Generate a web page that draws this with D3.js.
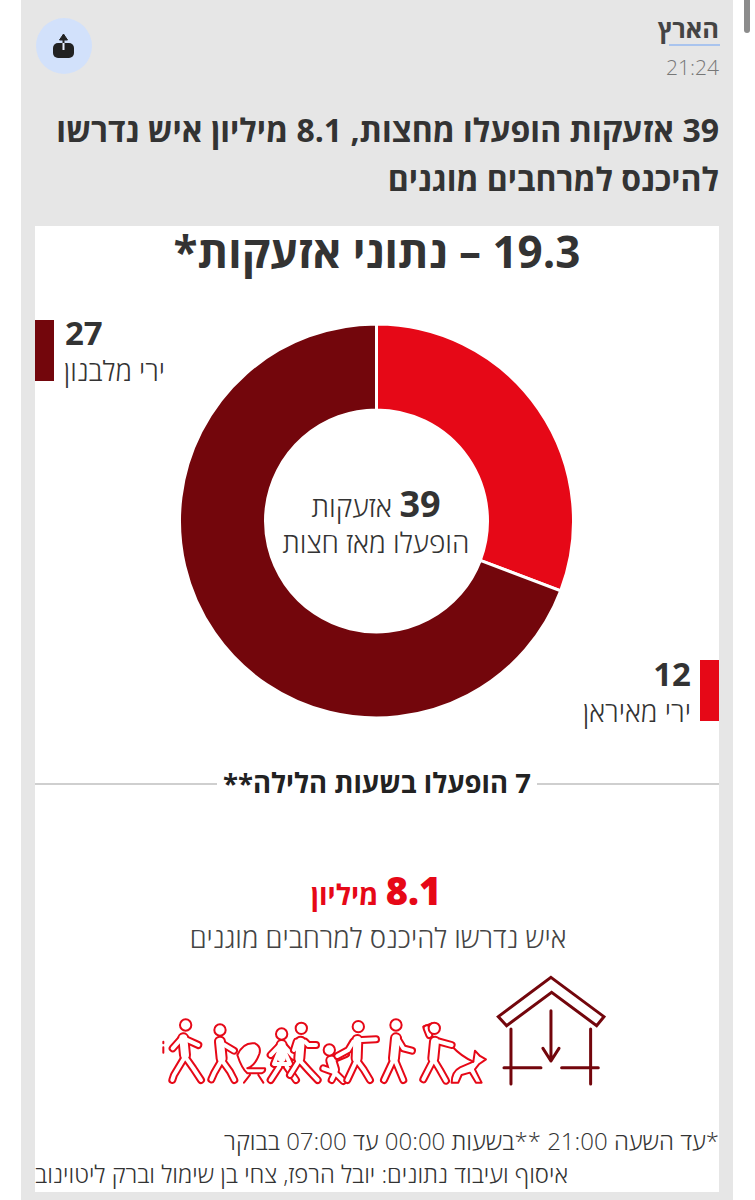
<!DOCTYPE html>
<html lang="he">
<head>
<meta charset="utf-8">
<script src="https://cdn.jsdelivr.net/npm/d3@7"></script>
<style>
  html, body { margin: 0; padding: 0; background: #fff; }
  svg { display: block; }
  text { font-family: "Open Sans", "Noto Sans", sans-serif; }
</style>
</head>
<body>
<svg id="chart" width="755" height="1200"></svg>
<script>
// values
var sliceNames = ["ירי מאיראן", "ירי מלבנון"];
var sliceValues = [12, 27];
var sliceColors = ["#e60817", "#73060c"];

var svg = d3.select("#chart");
var H = 1200;

function rect(x, y, w, h, fill) {
  return svg.append("rect").attr("x", x).attr("y", y).attr("width", w).attr("height", h).attr("fill", fill);
}

function label(x, y, str, size, weight, fill, anchor) {
  return svg.append("text")
    .attr("x", x).attr("y", y)
    .attr("direction", "rtl")
    .attr("text-anchor", anchor || "middle")
    .attr("font-size", size)
    .attr("font-weight", weight)
    .attr("fill", fill)
    .text(str);
}

// background panels and scrollbar
rect(21, 0, 712, H, "#e6e6e6");
rect(35, 226, 684, 966, "#ffffff");
rect(744, -6, 6, 39, "#8c8c8c").attr("rx", 3);

// header
label(719, 38, "הארץ", 25.5, 700, "#444", "start");
svg.append("line").attr("x1", 669).attr("x2", 720).attr("y1", 45).attr("y2", 45)
  .attr("stroke", "#a9c4ee").attr("stroke-width", 2);
svg.append("text").attr("x", 719).attr("y", 75).attr("text-anchor", "end")
  .attr("font-size", 21).attr("font-weight", 300).attr("fill", "#777").text("21:24");

// share button
svg.append("circle").attr("cx", 64).attr("cy", 46).attr("r", 28).attr("fill", "#d2e1fb");
rect(53, 43, 21, 15, "#222").attr("rx", 5);
svg.append("path").attr("d", "M59.5 40L63.5 34L67.5 40Z").attr("fill", "#222").attr("stroke", "#222");
svg.append("line").attr("x1", 63.5).attr("x2", 63.5).attr("y1", 38).attr("y2", 43)
  .attr("stroke", "#222").attr("stroke-width", 2);
svg.append("line").attr("x1", 63.5).attr("x2", 63.5).attr("y1", 43).attr("y2", 50)
  .attr("stroke", "#e8effc").attr("stroke-width", 2);

// headline
label(719, 142, "39 אזעקות הופעלו מחצות, 8.1 מיליון איש נדרשו", 32, 700, "#333", "start");
label(719, 191, "להיכנס למרחבים מוגנים", 32, 700, "#333", "start");

// card title
label(377, 268, "19.3 – נתוני אזעקות*", 44, 700, "#333");

// donut
var cx = 376.5, cy = 521;
var pie = d3.pie().sort(null).value(function (d) { return d; });
var arc = d3.arc().innerRadius(111).outerRadius(197);
svg.append("g")
  .attr("transform", "translate(" + cx + "," + cy + ")")
  .selectAll("path")
  .data(pie(sliceValues))
  .join("path")
  .attr("d", arc)
  .attr("fill", function (d, i) { return sliceColors[i]; })
  .attr("stroke", "#fff")
  .attr("stroke-width", 3);

// donut centre
var centre = label(376, 517, "", 28.5, 300, "#333");
centre.append("tspan").attr("font-size", 36).attr("font-weight", 700).text("39");
centre.append("tspan").text(" אזעקות");
label(376, 553, "הופעלו מאז חצות", 28, 300, "#333");

// slice labels
rect(35, 320, 19, 61, sliceColors[1]);
svg.append("text").attr("x", 65).attr("y", 345).attr("font-size", 33).attr("font-weight", 700)
  .attr("fill", "#333").text(sliceValues[1]);
label(165, 381, sliceNames[1], 27.5, 300, "#333", "start");

rect(700, 660, 19, 61, sliceColors[0]);
svg.append("text").attr("x", 691).attr("y", 686).attr("text-anchor", "end").attr("font-size", 33).attr("font-weight", 700)
  .attr("fill", "#333").text(sliceValues[0]);
label(691, 722, sliceNames[0], 27.8, 300, "#333", "start");

// divider
svg.append("line").attr("x1", 35).attr("x2", 719).attr("y1", 784).attr("y2", 784)
  .attr("stroke", "#cfcfcf").attr("stroke-width", 2);
rect(217, 770, 320, 28, "#fff");
label(377, 793, "7 הופעלו בשעות הלילה**", 27.5, 700, "#222");

// 8.1 million
var big = label(376, 905, "", 28, 700, "#e60817");
big.append("tspan").attr("font-size", 38).attr("font-weight", 800).text("8.1");
big.append("tspan").text(" מיליון");
label(378, 948, "איש נדרשו להיכנס למרחבים מוגנים", 27.5, 300, "#444");

// icons are traced in a 3x space, then scaled down onto the page
var icons = svg.append("g").attr("transform", "translate(140,960) scale(0.3333)")
  .attr("fill", "none").attr("stroke-linejoin", "round").attr("stroke-linecap", "round");

// shelter
var house = icons.append("g").attr("stroke", sliceColors[1]).attr("stroke-width", 9);
house.append("path").attr("stroke-linejoin", "miter").attr("d", "M1233 52L1392 170L1370 197L1235 97L1100 197L1075 170Z");
house.append("path").attr("d", "M1113 207V372M1352 207V372M1092 323H1203M1265 323H1375");
house.append("path").attr("d", "M1233 152V303M1209 265L1233 303L1257 265");

// stroller, leash, dog and the small mark go under the walkers
var extras = icons.append("g").attr("stroke", "#e60817").attr("stroke-width", 6);
extras.append("path").attr("d", "M292 285Q310 245 345 250Q365 260 358 282Q345 318 322 325H375Q378 335 365 340H322Q305 325 292 285M330 345L312 368M355 345L370 368");
extras.append("path").attr("d", "M935 258Q965 290 1000 305");
extras.append("path").attr("d", "M1005 272L1020 288L1038 298L1018 312L1005 328L1025 368H1008L990 338L965 345L955 368H935Q935 335 960 322L1000 305Z");
extras.append("path").attr("d", "M70 262V278M70 245V250");
extras.append("path").attr("d", "M850 200L875 190M850 200L865 232");

// walkers: torso and limbs drawn thick in red, then thin in white, to get the outline look
var walkers = [
  { head: [137, 195], torso: "M130 235L135 285", limbs: "M135 290L102 345L97 360M135 290L160 325L183 360M122 238L98 265M138 238L175 255" },
  { head: [240, 210], torso: "M240 245L245 295", limbs: "M245 300L222 340L214 358M245 300L270 335L283 360M245 250L282 272" },
  { head: [425, 222], torso: "M425 255L425 295", limbs: "M418 320L392 360M440 320L468 360M418 258L392 285M432 258L460 290M425 255L402 312H450Z" },
  { head: [484, 205], torso: "M482 245L478 295", limbs: "M478 300L450 345M478 300L505 330L533 360M495 245L505 255L528 255M470 245L462 270" },
  { head: [568, 270], torso: "M574 302L582 328", limbs: "M582 335L610 363M578 335L550 325M585 340L575 360M575 300L618 282" },
  { head: [655, 200], torso: "M652 240L650 295", limbs: "M650 300L622 360M650 300L672 330L690 360M665 240L708 238M640 245L625 270L592 288" },
  { head: [768, 195], torso: "M768 235L762 295", limbs: "M760 300L732 360M765 300L790 360M775 240L790 265L816 272" },
  { head: [883, 205], torso: "M885 245L880 295", limbs: "M880 300L850 358M882 300L900 330L918 362M898 245L935 255M868 225L860 205" }
];
var people = icons.append("g");
walkers.forEach(function (w) {
  var g = people.append("g");
  g.append("path").attr("d", w.limbs).attr("stroke", "#e60817").attr("stroke-width", 24);
  g.append("path").attr("d", w.torso).attr("stroke", "#e60817").attr("stroke-width", 36);
  g.append("path").attr("d", w.limbs).attr("stroke", "#fff").attr("stroke-width", 12);
  g.append("path").attr("d", w.torso).attr("stroke", "#fff").attr("stroke-width", 24);
  g.append("circle").attr("cx", w.head[0]).attr("cy", w.head[1]).attr("r", 17)
    .attr("fill", "#fff").attr("stroke", "#e60817").attr("stroke-width", 6);
});

// notes
label(719, 1150, "*עד השעה 21:00 **בשעות 00:00 עד 07:00 בבוקר", 24, 300, "#333", "start");
label(568, 1183, "איסוף ועיבוד נתונים: יובל הרפז, צחי בן שימול וברק ליטוינוב", 23.85, 300, "#333", "start");
</script>
</body>
</html>
